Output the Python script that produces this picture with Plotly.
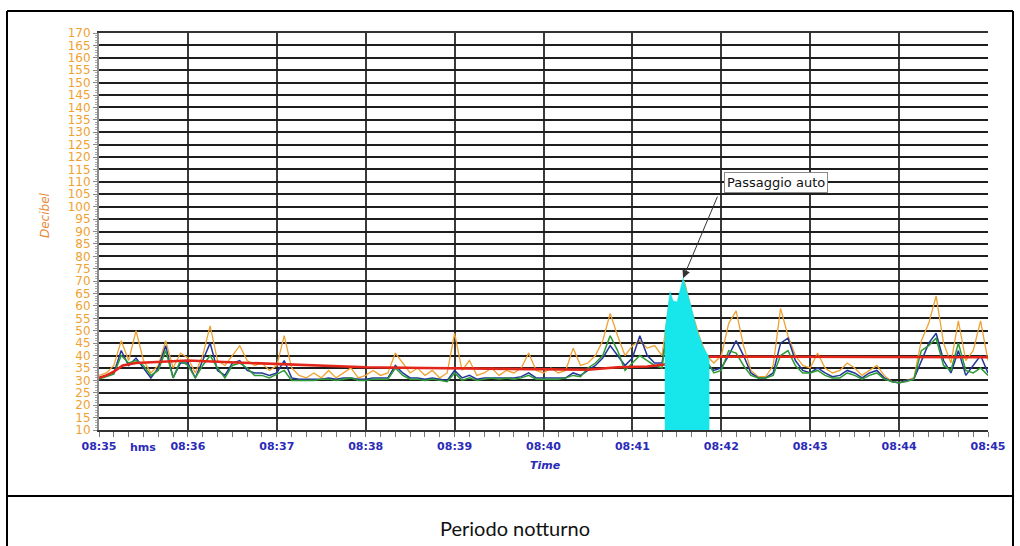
import plotly.graph_objects as go

# ---------------- data ----------------
times = list(range(0, 601, 5))  # seconds after 08:35:00

orange = [
    32, 33, 36, 46, 38, 50, 38, 33, 36, 46,
    35, 41, 39, 33, 40, 52, 38, 36, 40, 44,
    38, 36, 37, 34, 36, 48, 35, 32, 31, 33,
    31, 34, 31, 33, 35, 31, 32, 34, 32, 33,
    41, 37, 33, 35, 32, 34, 31, 33, 49, 34,
    38, 32, 33, 35, 32, 34, 33, 35, 41, 34,
    33, 35, 33, 34, 43, 36, 37, 40, 46, 57,
    48, 40, 44, 46, 43, 44, 40, 62, 55, 70,
    58, 48, 40, 37, 40, 53, 58, 44, 34, 31.5,
    31.5, 36, 59, 48, 40, 36, 35, 41, 35, 33,
    34, 37, 35, 32, 34, 36, 32, 29.5, 29, 30,
    31, 46, 53, 64, 45, 37, 54, 38, 42, 54,
    38,
]
blue = [
    31, 32, 33, 42, 36, 39, 35, 31, 35, 44,
    31, 37, 37, 31, 38, 45, 34, 32, 37, 38,
    34, 33, 33, 32, 33, 38, 31, 30.5, 30.5, 30.5,
    30.5, 31, 30.5, 31, 31, 30.5, 30.5, 31, 31, 31,
    36, 33, 31, 31, 30.5, 31, 30.5, 30, 34, 31,
    32, 30.5, 31, 31, 31, 31, 31, 31.5, 33, 31,
    31, 31, 31, 31, 33, 32, 34, 36, 39, 44,
    40, 36, 39, 48, 40, 37, 37, 55, 50, 62,
    52, 44, 37, 34, 35, 40, 46, 40, 33, 31,
    31, 33, 45, 47, 38, 34, 33, 35, 33, 31.5,
    32, 34, 33, 31, 33, 34, 31, 29.5, 29, 30,
    30.5, 38, 45, 49, 38, 33, 42, 32, 36, 40,
    33,
]
green = [
    30.5, 31.5, 32.5, 40, 37, 38, 36, 32, 34, 42,
    31, 38, 36, 31, 36, 40, 35, 31, 36, 37,
    35, 32, 32, 31, 32.5, 34, 30, 30, 30, 30,
    30.5, 30.5, 30, 30.5, 31, 30, 30, 30.5, 30.5, 30.5,
    35, 32, 30.5, 30.5, 30, 30.5, 30, 29.5, 33, 30,
    31, 30, 30.5, 31, 30.5, 31, 30.5, 31, 32, 30.5,
    30.5, 30.5, 30.5, 31, 32, 31.5, 35, 37, 40, 48,
    42, 34, 37, 40, 38, 36, 35, 58, 52, 68,
    55, 45, 38, 33, 34, 42, 41, 36, 32, 31,
    31, 32, 40, 42, 36, 33, 33, 34, 32, 31,
    31, 33, 32, 30.5, 32, 33, 30.5, 29.5, 29, 29.5,
    30.5, 42, 44, 47, 36, 34, 45, 34, 33, 35,
    32,
]
red_t = [0, 5, 10, 16, 25, 40, 60, 80, 100, 120, 140, 180, 220, 260, 300,
         330, 340, 350, 370, 378, 383, 395, 411, 460, 520, 600]
red_v = [31, 32, 33.5, 36, 37, 37.5, 38, 37.5, 37, 36.5, 36, 35.3, 35, 34.7, 34.3,
         34.3, 34.8, 35.3, 35.6, 36.2, 36.5, 39, 39.5, 39.5, 39.4, 39.3]
cyan_t = [382, 382, 385.4, 387.5, 390.2, 394.2, 399.1, 403.7, 407.7, 411.1, 411.8, 411.8]
cyan_v = [10, 50, 65.8, 62, 61.7, 71.2, 61, 50, 43.5, 40, 38, 10]

x_tickvals = [0, 60, 120, 180, 240, 300, 360, 420, 480, 540, 600]
x_ticktext = ["08:35", "08:36", "08:37", "08:38", "08:39", "08:40",
              "08:41", "08:42", "08:43", "08:44", "08:45"]
y_tickvals = list(range(10, 171, 5))
y_ticktext = [str(v) for v in y_tickvals]

# ---------------- layout geometry ----------------
W, H = 1020, 546
ML, MR, MT, MB = 99, 32, 33, 116
PW, PH = W - ML - MR, H - MT - MB


def px(x):
    return (x - ML) / PW


def py(y):
    return (H - MB - y) / PH


ORANGE = "#EFA232"
BLUE = "#23379A"
GREEN = "#2E9A34"
RED = "#E3261A"
CYAN = "#17E6EA"
TBLUE = "#2B2BB8"

fig = go.Figure()
fig.add_trace(go.Scatter(x=times, y=orange, mode="lines",
                         line=dict(color=ORANGE, width=1.3), hoverinfo="skip"))
fig.add_trace(go.Scatter(x=times, y=blue, mode="lines",
                         line=dict(color=BLUE, width=1.5), hoverinfo="skip"))
fig.add_trace(go.Scatter(x=times, y=green, mode="lines",
                         line=dict(color=GREEN, width=1.5), hoverinfo="skip"))
fig.add_trace(go.Scatter(x=red_t, y=red_v, mode="lines",
                         line=dict(color=RED, width=2.6), hoverinfo="skip"))
fig.add_trace(go.Scatter(x=cyan_t, y=cyan_v, mode="lines", fill="toself",
                         fillcolor=CYAN, line=dict(color=CYAN, width=0.5),
                         hoverinfo="skip"))

fig.update_layout(
    width=W, height=H,
    margin=dict(l=ML, r=MR, t=MT, b=MB, pad=0),
    paper_bgcolor="white", plot_bgcolor="white",
    showlegend=False,
    xaxis=dict(
        range=[0, 600], tickvals=x_tickvals, ticktext=x_ticktext,
        showgrid=True, gridcolor="#3a3a3a", gridwidth=2,
        showline=True, linecolor="#333333", linewidth=1.5, mirror=True,
        ticks="outside", ticklen=5, tickcolor="#777777", tickwidth=1,
        minor=dict(dtick=10, tick0=0, ticks="outside", ticklen=5,
                   tickcolor="#777777", showgrid=False),
        tickfont=dict(family="DejaVu Sans", size=11, color=TBLUE, weight="bold"),
        zeroline=False,
    ),
    yaxis=dict(
        range=[10, 170], tickvals=y_tickvals, ticktext=y_ticktext,
        showgrid=True, gridcolor="#1e1e1e", gridwidth=1.8,
        showline=True, linecolor="#8a8a8a", linewidth=2,
        ticks="outside", ticklen=4, tickcolor="#8a8a8a",
        minor=dict(dtick=1, tick0=10, ticks="outside", ticklen=2,
                   tickcolor="#aaaaaa", showgrid=False),
        tickfont=dict(family="DejaVu Sans", size=12, color=ORANGE),
        zeroline=False,
    ),
)

common = dict(xref="paper", yref="paper", showarrow=False,
              xanchor="center", yanchor="middle")
annotations = [
    dict(common, text="Decibel", x=px(45), y=py(215), textangle=-90,
         font=dict(family="DejaVu Sans", size=12, color="#E8883A", style="italic")),
    dict(common, text="hms", x=px(143), y=py(447),
         font=dict(family="DejaVu Sans", size=11, color=TBLUE, weight="bold")),
    dict(common, text="Time", x=px(545), y=py(465),
         font=dict(family="DejaVu Sans", size=11, color=TBLUE, weight="bold",
                   style="italic")),
    dict(common, text="Periodo notturno", x=px(515), y=py(528),
         font=dict(family="Lato", size=20, color="#111111")),
    # label box
    dict(common, text="Passaggio auto", x=px(776), y=py(183),
         font=dict(family="DejaVu Sans", size=13, color="#111111"),
         bgcolor="white", bordercolor="#8a8a8a", borderwidth=1, borderpad=2),
    # arrow to the peak
    dict(text="", x=394.2, y=71.2, xref="x", yref="y",
         ax=35, ay=-83, axref="pixel", ayref="pixel",
         showarrow=True, arrowhead=2, arrowsize=1.6, arrowwidth=1,
         arrowcolor="#333333"),
]
fig.update_layout(annotations=annotations)

# outer table frame
frame = dict(type="line", xref="paper", yref="paper",
             line=dict(color="black", width=2))
shapes = [
    dict(frame, x0=px(7), x1=px(7), y0=py(11), y1=py(560)),
    dict(frame, x0=px(1013), x1=px(1013), y0=py(11), y1=py(560)),
    dict(frame, x0=px(7), x1=px(1013), y0=py(11), y1=py(11)),
    dict(frame, x0=px(7), x1=px(1013), y0=py(496), y1=py(496)),
]
fig.update_layout(shapes=shapes)

fig.write_html("out.html", config={"displayModeBar": False},
               post_script="document.body.style.margin='0';document.body.style.overflow='hidden';")
